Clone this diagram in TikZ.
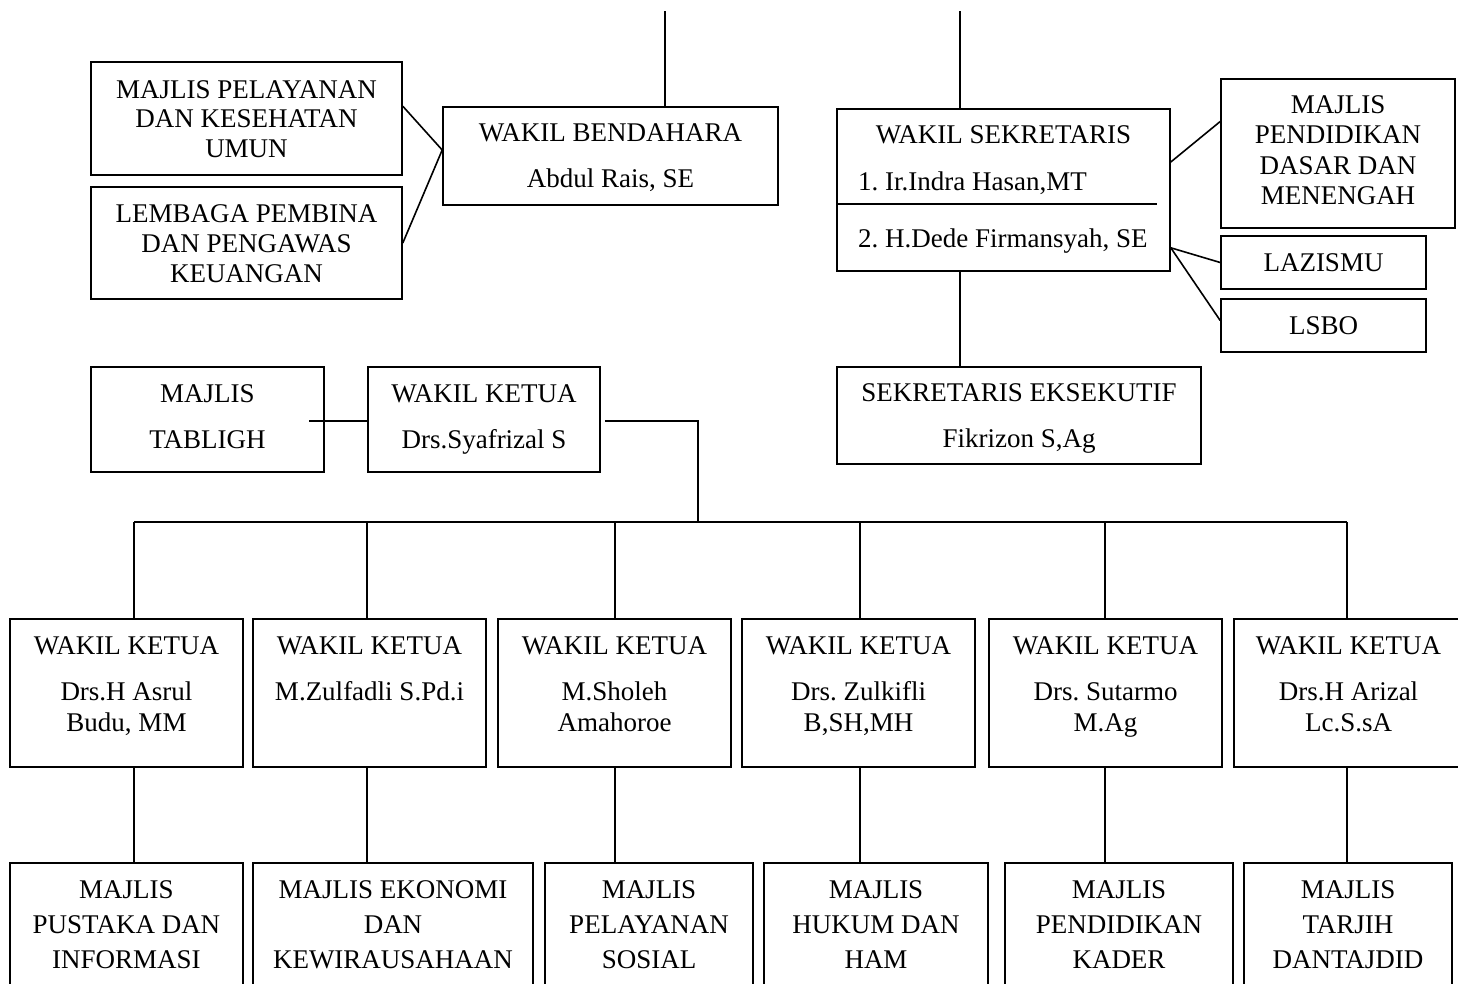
\documentclass[tikz,border=0pt]{standalone}
\usepackage{fontspec}
\setmainfont{Liberation Serif}
\usetikzlibrary{fit,calc}
\frenchspacing
\tikzset{
  box/.style={draw, line width=1.6pt, inner sep=0pt},
  txt/.style={anchor=base, inner sep=0pt},
  conn/.style={line width=1.6pt}
}
\newcommand\orgbox[5]{%
  \path (#2,#3) coordinate (#1-nw) (#4,#5) coordinate (#1-se);
  \node[box, fit=(#1-nw)(#1-se)] (#1) {};}
\newcommand\mytxt[3]{\node[txt] at (#1 |- 0,#2) {#3};}
\begin{document}
\begin{tikzpicture}[x=1pt,y=-1pt,font=\fontsize{27}{30}\selectfont]
\useasboundingbox (0,0) rectangle (1458,983);
\clip (0,0) rectangle (1458,983);

% boxes
\orgbox{mp}{91}{62}{402}{175}
\orgbox{lp}{91}{187}{402}{299}
\orgbox{wb}{443}{107}{778}{205}
\orgbox{ws}{837}{109}{1170}{271}
\orgbox{mpd}{1221}{79}{1455}{228}
\orgbox{laz}{1221}{236}{1426}{289}
\orgbox{lsbo}{1221}{299}{1426}{352}
\orgbox{se}{837}{367}{1201}{464}
\orgbox{mt}{91}{367}{324}{472}
\orgbox{wkt}{368}{367}{600}{472}
\orgbox{wk1}{10}{619}{243}{767}
\orgbox{wk2}{253}{619}{486}{767}
\orgbox{wk3}{498}{619}{731}{767}
\orgbox{wk4}{742}{619}{975}{767}
\orgbox{wk5}{989}{619}{1222}{767}
\orgbox{wk6}{1234}{619}{1467}{767}
\orgbox{m1}{10}{863}{243}{1000}
\orgbox{m2}{253}{863}{533}{1000}
\orgbox{m3}{545}{863}{753}{1000}
\orgbox{m4}{764}{863}{988}{1000}
\orgbox{m5}{1005}{863}{1233}{1000}
\orgbox{m6}{1244}{863}{1452}{1000}

% connectors
\coordinate (t1) at (665,11);
\coordinate (t2) at (960,11);
\draw[conn] (t1) -- (t1 |- wb.north);
\draw[conn] (t2) -- (t2 |- ws.north);
\draw[conn] (mp.east |- wb.north) -- ([yshift=6pt]wb.west);
\draw[conn] (lp.east) -- ([yshift=6pt]wb.west);
\draw[line width=1.6pt] (ws.west |- 0,204) -- (1157,204);
\draw[conn] ([yshift=28pt]ws.east) -- ([yshift=32pt]mpd.west);
\draw[conn] ([yshift=24pt]ws.south east) -- (laz.west);
\draw[conn] ([yshift=24pt]ws.south east) -- ([yshift=5pt]lsbo.west);
\draw[conn] (t2 |- ws.south) -- (t2 |- se.north);
\coordinate (tl) at (309,421);
\draw[conn] (tl) -- (tl -| wkt.west);
\coordinate (k) at (698,522);
\draw[conn] ([xshift=4pt]wkt.east |- 0,421) -- (k |- 0,421) -- (k);
\coordinate (b1) at (134,522);
\coordinate (b2) at (367,522);
\coordinate (b3) at (615,522);
\coordinate (b4) at (860,522);
\coordinate (b5) at (1105,522);
\coordinate (b6) at (1347,522);
\draw[conn] (b1) -- (b6);
\foreach \i in {1,...,6}{
  \draw[conn] (b\i) -- (b\i |- wk\i.north);
  \draw[conn] (b\i |- wk\i.south) -- (b\i |- m\i.north);
}

% texts
\mytxt{mp}{98}{MAJLIS PELAYANAN}
\mytxt{mp}{127}{DAN KESEHATAN}
\mytxt{mp}{157}{UMUN}
\mytxt{lp}{222}{LEMBAGA PEMBINA}
\mytxt{lp}{252}{DAN PENGAWAS}
\mytxt{lp}{282}{KEUANGAN}
\mytxt{wb}{141}{WAKIL BENDAHARA}
\mytxt{wb}{187}{Abdul Rais, SE}
\mytxt{ws}{143}{WAKIL SEKRETARIS}
\node[txt, anchor=base west] at (858,190) {1. Ir.Indra Hasan,MT};
\node[txt, anchor=base west] at (858,247) {2. H.Dede Firmansyah, SE};
\mytxt{mpd}{113}{MAJLIS}
\mytxt{mpd}{143}{PENDIDIKAN}
\mytxt{mpd}{174}{DASAR DAN}
\mytxt{mpd}{204}{MENENGAH}
\mytxt{laz}{271}{LAZISMU}
\mytxt{lsbo}{334}{LSBO}
\mytxt{se}{401}{SEKRETARIS EKSEKUTIF}
\mytxt{se}{447}{Fikrizon S,Ag}
\mytxt{mt}{402}{MAJLIS}
\mytxt{mt}{448}{TABLIGH}
\mytxt{wkt}{402}{WAKIL KETUA}
\mytxt{wkt}{448}{Drs.Syafrizal S}

\foreach \i in {1,...,5}{\mytxt{wk\i}{654}{WAKIL KETUA}}
\node[txt] at (1348.5,654) {WAKIL KETUA};
\mytxt{wk1}{700}{Drs.H Asrul}
\mytxt{wk1}{731}{Budu, MM}
\mytxt{wk2}{700}{M.Zulfadli S.Pd.i}
\mytxt{wk3}{700}{M.Sholeh}
\mytxt{wk3}{731}{Amahoroe}
\mytxt{wk4}{700}{Drs. Zulkifli}
\mytxt{wk4}{731}{B,SH,MH}
\mytxt{wk5}{700}{Drs. Sutarmo}
\mytxt{wk5}{731}{M.Ag}
\node[txt] at (1348.5,700) {Drs.H Arizal};
\node[txt] at (1348.5,731) {Lc.S.sA};

\mytxt{m1}{898}{MAJLIS}
\mytxt{m1}{933}{PUSTAKA DAN}
\mytxt{m1}{968}{INFORMASI}
\mytxt{m2}{898}{MAJLIS EKONOMI}
\mytxt{m2}{933}{DAN}
\mytxt{m2}{968}{KEWIRAUSAHAAN}
\mytxt{m3}{898}{MAJLIS}
\mytxt{m3}{933}{PELAYANAN}
\mytxt{m3}{968}{SOSIAL}
\mytxt{m4}{898}{MAJLIS}
\mytxt{m4}{933}{HUKUM DAN}
\mytxt{m4}{968}{HAM}
\mytxt{m5}{898}{MAJLIS}
\mytxt{m5}{933}{PENDIDIKAN}
\mytxt{m5}{968}{KADER}
\mytxt{m6}{898}{MAJLIS}
\mytxt{m6}{933}{TARJIH}
\mytxt{m6}{968}{DANTAJDID}
\end{tikzpicture}
\end{document}
